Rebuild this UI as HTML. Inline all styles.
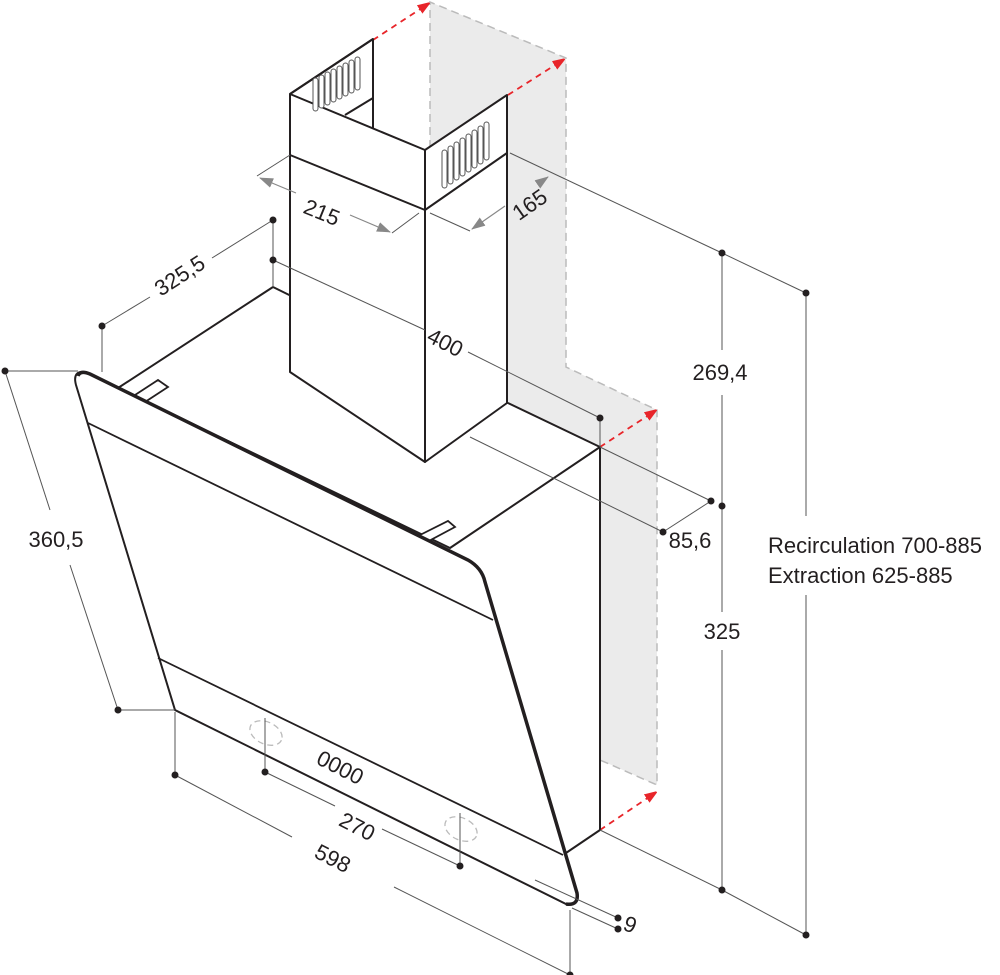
<!DOCTYPE html>
<html><head><meta charset="utf-8"><style>
html,body{margin:0;padding:0;background:#fff;}
svg{display:block;}
text{font-family:"Liberation Sans",sans-serif;fill:#231f20;font-size:22px;}
</style></head><body>
<svg width="1000" height="975" viewBox="0 0 1000 975" xmlns="http://www.w3.org/2000/svg">
<defs>
<marker id="ra" markerWidth="12" markerHeight="10" refX="10" refY="5" orient="auto" markerUnits="userSpaceOnUse"><path d="M0,0 L14,5 L0,10 Z" fill="#e8252a"/></marker>
<marker id="ga" markerWidth="14" markerHeight="10" refX="13" refY="5" orient="auto" markerUnits="userSpaceOnUse"><path d="M0,0 L14,5 L0,10 Z" fill="#888"/></marker>
<marker id="gs" markerWidth="14" markerHeight="10" refX="1" refY="5" orient="auto" markerUnits="userSpaceOnUse"><path d="M14,0 L0,5 L14,10 Z" fill="#888"/></marker>
</defs>
<polygon points="430,2 566,58 566,367 657,410 657,785 600,760 600,447 508,403 508,150 430,150" fill="#ebebeb"/>
<g stroke="#bbb" stroke-width="1.5" stroke-dasharray="8,5" fill="none">
<polyline points="430,148 430,2 566,58 566,367 657,410 657,785 600,760"/>
</g>
<g stroke="#e8252a" stroke-width="1.8" stroke-dasharray="6,5" fill="none" marker-end="url(#ra)">
<line x1="373" y1="40" x2="428" y2="4"/>
<line x1="508" y1="95" x2="563" y2="60"/>
<line x1="600" y1="447" x2="655" y2="411"/>
<line x1="600" y1="830" x2="655" y2="793"/>
</g>
<g stroke="#231f20" stroke-width="2" fill="#fff" stroke-linejoin="round">
<polygon points="273,287 118,388 450,548 600,447 508,403"/>
<line x1="600" y1="447" x2="600" y2="830"/>
<line x1="600" y1="830" x2="563" y2="855"/>
</g>
<line x1="290" y1="298" x2="508" y2="403" stroke="#aaa" stroke-width="1.5" stroke-dasharray="9,6"/>
<g stroke="#231f20" stroke-width="1.8" fill="#fff">
<polygon points="135,395 158,380 168,387 145,402"/>
<polygon points="418,536 448,521 455,527 425,543"/>
</g>
<g stroke="#231f20" stroke-width="2" fill="#fff" stroke-linejoin="round">
<polygon points="290,94 373,39 373,128 290,180"/>
<polygon points="290,94 425,150 425,462 290,372"/>
<polygon points="425,150 507,95 507,403 425,462"/>
<line x1="345" y1="115" x2="373" y2="98"/>
<polyline points="290,155 425,210 507,153" fill="none"/>
<line x1="290" y1="94" x2="373" y2="39"/>
</g>
<g stroke="#555" stroke-width="1" fill="#fff">
<rect x="313" y="78" width="5" height="33" rx="2.5"/><rect x="319" y="75" width="5" height="33" rx="2.5"/><rect x="325" y="72" width="5" height="33" rx="2.5"/><rect x="331" y="69" width="5" height="33" rx="2.5"/><rect x="337" y="66" width="5" height="33" rx="2.5"/><rect x="343" y="63" width="5" height="33" rx="2.5"/><rect x="349" y="60" width="5" height="33" rx="2.5"/><rect x="355" y="57" width="5" height="33" rx="2.5"/>
<rect x="442" y="150" width="5" height="38" rx="2.5"/><rect x="448" y="146" width="5" height="38" rx="2.5"/><rect x="454" y="142" width="5" height="38" rx="2.5"/><rect x="460" y="138" width="5" height="38" rx="2.5"/><rect x="466" y="134" width="5" height="38" rx="2.5"/><rect x="472" y="130" width="5" height="38" rx="2.5"/><rect x="478" y="126" width="5" height="38" rx="2.5"/><rect x="484" y="122" width="5" height="38" rx="2.5"/>
</g>
<path d="M86,372 L468,560 Q482,568 485,582 L577,893 Q579,906 566,904 L175,710 L76,385 Q72,370 86,372 Z" fill="#fff" stroke="#231f20" stroke-width="2"/>
<path d="M78,376 Q80,370 90,374 L468,560 Q482,568 485,582 L577,893 Q579,906 566,904" fill="none" stroke="#231f20" stroke-width="3.5"/>
<g stroke="#231f20" stroke-width="1.8">
<line x1="88" y1="423" x2="493" y2="620"/>
<line x1="158" y1="658" x2="563" y2="855"/>
</g>
<g stroke="#bbb" stroke-width="1.3" fill="none" stroke-dasharray="6,4">
<ellipse cx="266" cy="733" rx="17" ry="11" transform="rotate(25 266 733)"/>
<ellipse cx="461" cy="829" rx="17" ry="11" transform="rotate(25 461 829)"/>
</g>
<text x="340" y="775" font-size="20" transform="rotate(27 340 768)" text-anchor="middle">0000</text>
<g stroke="#555" stroke-width="1" fill="none">
<line x1="257" y1="176" x2="290" y2="155"/>
<line x1="392" y1="233" x2="419" y2="213"/>
<line x1="430" y1="213" x2="470" y2="231"/>
<line x1="510" y1="153" x2="722" y2="253"/>
<line x1="722" y1="253" x2="806" y2="293"/>
<line x1="102" y1="326" x2="102" y2="372"/>
<line x1="102" y1="326" x2="150" y2="297"/>
<line x1="212" y1="258" x2="273" y2="220"/>
<line x1="273" y1="220" x2="273" y2="287"/>
<line x1="273" y1="260" x2="425" y2="330"/>
<line x1="468" y1="352" x2="600" y2="418"/>
<line x1="600" y1="418" x2="600" y2="447"/>
<line x1="600" y1="447" x2="711" y2="501"/>
<line x1="470" y1="437" x2="663" y2="532"/>
<line x1="663" y1="532" x2="711" y2="501"/>
<line x1="722" y1="253" x2="722" y2="350"/>
<line x1="722" y1="395" x2="722" y2="612"/>
<line x1="722" y1="650" x2="722" y2="890"/>
<line x1="806" y1="293" x2="806" y2="516"/>
<line x1="806" y1="595" x2="806" y2="935"/>
<line x1="600" y1="830" x2="722" y2="890"/>
<line x1="722" y1="890" x2="806" y2="935"/>
<line x1="5" y1="371" x2="78" y2="371"/>
<line x1="5" y1="371" x2="50" y2="510"/>
<line x1="70" y1="565" x2="118" y2="710"/>
<line x1="118" y1="710" x2="175" y2="710"/>
<line x1="175" y1="712" x2="175" y2="775"/>
<line x1="175" y1="775" x2="292" y2="837"/>
<line x1="394" y1="887" x2="570" y2="975"/>
<line x1="570" y1="910" x2="570" y2="975"/>
<line x1="265" y1="718" x2="265" y2="772"/>
<line x1="265" y1="772" x2="335" y2="806"/>
<line x1="382" y1="829" x2="460" y2="866"/>
<line x1="460" y1="813" x2="460" y2="866"/>
<line x1="535" y1="880" x2="618" y2="918"/>
<line x1="572" y1="908" x2="618" y2="929"/>
</g>
<g stroke="#888" stroke-width="1.2" fill="none">
<line x1="260" y1="178" x2="296" y2="193" marker-start="url(#gs)"/>
<line x1="350" y1="215" x2="390" y2="232" marker-end="url(#ga)"/>
<line x1="472" y1="229" x2="505" y2="206" marker-start="url(#gs)"/>
<line x1="538" y1="184" x2="548" y2="177" marker-end="url(#ga)"/>
</g>
<g fill="#231f20">
<circle cx="102" cy="326" r="3.5"/><circle cx="273" cy="220" r="3.5"/><circle cx="273" cy="260" r="3.5"/>
<circle cx="600" cy="418" r="3.5"/><circle cx="711" cy="501" r="3.5"/><circle cx="722" cy="506" r="3.5"/><circle cx="663" cy="532" r="3.5"/>
<circle cx="722" cy="253" r="3.5"/><circle cx="806" cy="293" r="3.5"/><circle cx="722" cy="890" r="3.5"/><circle cx="806" cy="935" r="3.5"/>
<circle cx="5" cy="371" r="3.5"/><circle cx="118" cy="710" r="3.5"/><circle cx="175" cy="775" r="3.5"/><circle cx="570" cy="975" r="3.5"/>
<circle cx="265" cy="772" r="3.5"/><circle cx="460" cy="866" r="3.5"/><circle cx="618" cy="918" r="3.5"/><circle cx="618" cy="929" r="3.5"/>
</g>
<text x="322" y="220" text-anchor="middle" transform="rotate(22 322 212)">215</text>
<text x="530" y="212" text-anchor="middle" transform="rotate(-35 530 205)">165</text>
<text x="180" y="283" text-anchor="middle" transform="rotate(-33 180 276)">325,5</text>
<text x="445" y="350" text-anchor="middle" transform="rotate(27 445 343)">400</text>
<text x="56" y="547" text-anchor="middle">360,5</text>
<text x="357" y="834" text-anchor="middle" transform="rotate(27 357 827)">270</text>
<text x="333" y="866" text-anchor="middle" transform="rotate(27 333 858)">598</text>
<text x="630" y="932" font-size="20" text-anchor="middle" transform="rotate(20 630 925)">9</text>
<text x="690" y="548" text-anchor="middle">85,6</text>
<text x="720" y="380" text-anchor="middle">269,4</text>
<text x="722" y="639" text-anchor="middle">325</text>
<text x="768" y="553">Recirculation 700-885</text>
<text x="768" y="583">Extraction 625-885</text>
</svg>
</body></html>
